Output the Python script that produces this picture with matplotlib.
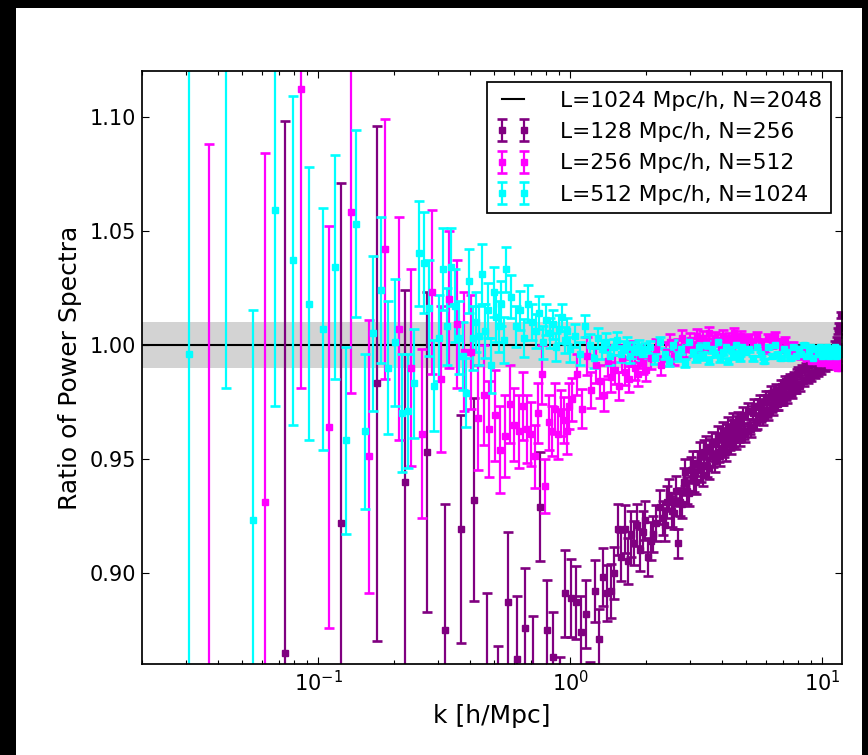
import matplotlib
matplotlib.use("Agg")
import matplotlib.pyplot as plt
from matplotlib.patches import Rectangle
from matplotlib.ticker import FormatStrFormatter

# Reference run (L=1024 Mpc/h, N=2048) and the +/-1% band around it
REF_RATIO = 1.0
BAND_HALF_WIDTH = 0.01
REF_LABEL = "L=1024 Mpc/h, N=2048"

# L=128 Mpc/h, N=256
K_L128 = [
    0.0736, 0.1227, 0.1718, 0.2209, 0.2700, 0.3191, 0.3682, 0.4172, 0.4663, 0.5154,
    0.5645, 0.6136, 0.6627, 0.7118, 0.7609, 0.8099, 0.8590, 0.9081, 0.9572, 1.0063,
    1.0554, 1.1045, 1.1536, 1.2026, 1.2517, 1.3008, 1.3499, 1.3990, 1.4481, 1.4972,
    1.5463, 1.5953, 1.6444, 1.6935, 1.7426, 1.7917, 1.8408, 1.8899, 1.9390, 1.9880,
    2.0371, 2.0862, 2.1353, 2.1844,
    2.282, 2.380, 2.479, 2.577, 2.675, 2.773, 2.871, 2.970, 3.068, 3.166,
    3.264, 3.362, 3.461, 3.559, 3.657, 3.755, 3.853, 3.952, 4.050, 4.148,
    4.246, 4.344, 4.443, 4.541, 4.639, 4.737, 4.835, 4.934,
    5.081, 5.228, 5.376, 5.523, 5.670, 5.817, 5.965, 6.112, 6.259, 6.406,
    6.554, 6.701, 6.848, 6.995, 7.143, 7.290, 7.437, 7.584, 7.732, 7.879,
    8.026, 8.173, 8.321, 8.468, 8.615, 8.762, 8.910, 9.057, 9.204, 9.351,
    9.499, 9.646, 9.793, 9.940, 10.088, 10.235, 10.382, 10.529, 10.677, 10.824,
    10.971, 11.118, 11.266, 11.413, 11.560, 11.707, 11.855,
    # intermediate bins
    2.331, 2.429, 2.528, 2.626, 2.724, 2.822, 2.920, 3.019, 3.117, 3.215,
    3.313, 3.411, 3.510, 3.608, 3.706, 3.804, 3.902, 4.001, 4.099, 4.197,
    4.295, 4.394, 4.492, 4.590, 4.688, 4.786, 4.884,
    5.155, 5.302, 5.450, 5.597, 5.744, 5.891, 6.039, 6.186, 6.333, 6.480,
    6.628, 6.775, 6.922, 7.069, 7.217, 7.364, 7.511, 7.658, 7.806, 7.953,
]
RATIO_L128 = [
    0.865, 0.922, 0.983, 0.940, 0.953, 0.875, 0.919, 0.932, 0.853, 0.835,
    0.887, 0.862, 0.876, 0.857, 0.929, 0.875, 0.863, 0.844, 0.891, 0.889,
    0.887, 0.874, 0.882, 0.846, 0.892, 0.871, 0.898, 0.891, 0.892, 0.900,
    0.919, 0.907, 0.919, 0.905, 0.917, 0.913, 0.921, 0.910, 0.918, 0.923,
    0.907, 0.914, 0.917, 0.922,
    0.929, 0.921, 0.934, 0.926, 0.913, 0.930, 0.944, 0.935, 0.948, 0.940,
    0.952, 0.943, 0.955, 0.946, 0.957, 0.949, 0.960, 0.951, 0.962, 0.953,
    0.964, 0.956, 0.966, 0.958, 0.967, 0.959, 0.969, 0.961,
    0.971, 0.963, 0.973, 0.966, 0.975, 0.968, 0.977, 0.970, 0.979, 0.972,
    0.980, 0.974, 0.982, 0.976, 0.984, 0.977, 0.985, 0.979, 0.986, 0.981,
    0.988, 0.982, 0.989, 0.984, 0.990, 0.985, 0.991, 0.986, 0.992, 0.987,
    0.993, 0.988, 0.993, 0.989, 0.994, 0.990, 0.995, 0.991, 0.996, 0.993,
    0.997, 0.996, 1.000, 1.002, 1.006, 1.008, 1.013,
    0.924, 0.931, 0.927, 0.936, 0.931, 0.940, 0.936, 0.945, 0.941, 0.948,
    0.945, 0.953, 0.947, 0.954, 0.951, 0.957, 0.953, 0.959, 0.955, 0.961,
    0.958, 0.963, 0.959, 0.965, 0.961, 0.966, 0.962,
    0.964, 0.970, 0.966, 0.973, 0.969, 0.975, 0.971, 0.977, 0.973, 0.978,
    0.974, 0.980, 0.976, 0.982, 0.978, 0.984, 0.980, 0.985, 0.981, 0.987,
]
ERR_L128 = [
    0.233, 0.149, 0.113, 0.084, 0.070, 0.055, 0.050, 0.0445, 0.038, 0.033,
    0.031, 0.028, 0.026, 0.024, 0.024, 0.022, 0.020, 0.019, 0.019, 0.017,
    0.016, 0.0156, 0.015, 0.015, 0.0137, 0.0132, 0.0127, 0.0123, 0.0119, 0.0115,
    0.0111, 0.0108, 0.0105, 0.0101, 0.0099, 0.0096, 0.0093, 0.0091, 0.0089, 0.0086,
    0.0084, 0.0082, 0.0080, 0.0079,
    0.0075, 0.0072, 0.0069, 0.0067, 0.0064, 0.0062, 0.0060, 0.0058, 0.0056, 0.0054,
    0.0053, 0.0051, 0.0050, 0.0048, 0.0047, 0.0046, 0.0045, 0.0044, 0.0042, 0.0041,
    0.0041, 0.0040, 0.0039, 0.0038, 0.0037, 0.0036, 0.0036, 0.0035,
    0.0034, 0.0033, 0.0032, 0.0031, 0.0030, 0.0030, 0.0029, 0.0028, 0.0027, 0.0027,
    0.0026, 0.0026, 0.0025, 0.0025, 0.0024, 0.0024, 0.0023, 0.0023, 0.0022, 0.0022,
    0.0021, 0.0021, 0.0021, 0.0020, 0.0020, 0.0020, 0.0019, 0.0019, 0.0019, 0.0018,
    0.0018, 0.0018, 0.0018, 0.0017, 0.0017, 0.0017, 0.0017, 0.0016, 0.0016, 0.0016,
    0.0016, 0.0015, 0.0015, 0.0015, 0.0015, 0.0015, 0.0015,
    0.0074, 0.0071, 0.0068, 0.0066, 0.0063, 0.0061, 0.0059, 0.0057, 0.0055, 0.0054,
    0.0052, 0.0050, 0.0049, 0.0048, 0.0046, 0.0045, 0.0044, 0.0043, 0.0042, 0.0041,
    0.0040, 0.0039, 0.0038, 0.0037, 0.0037, 0.0036, 0.0035,
    0.0033, 0.0032, 0.0032, 0.0031, 0.0030, 0.0029, 0.0028, 0.0028, 0.0027, 0.0027,
    0.0026, 0.0025, 0.0025, 0.0024, 0.0024, 0.0023, 0.0023, 0.0022, 0.0022, 0.0022,
]

# L=256 Mpc/h, N=512
K_L256 = [
    0.0368, 0.0614, 0.0859, 0.1104, 0.1350, 0.1595, 0.1841, 0.2086, 0.2332, 0.2577,
    0.2823, 0.3068, 0.3313, 0.3559, 0.3804, 0.4050, 0.4295, 0.4541, 0.4786, 0.5032,
    0.5277, 0.5522, 0.5768, 0.6013, 0.6259, 0.6504, 0.6750, 0.6995, 0.7240, 0.7486,
    0.7731, 0.7977, 0.8222, 0.8468, 0.8713, 0.8959, 0.9204, 0.9450, 0.9695, 0.9940,
    1.019, 1.068, 1.117, 1.166, 1.215, 1.264, 1.313, 1.362, 1.411, 1.460,
    1.509, 1.558, 1.607, 1.657, 1.706, 1.755, 1.804, 1.853, 1.902, 1.951, 2.000,
    2.098, 2.196, 2.294, 2.393, 2.491, 2.589, 2.687, 2.785, 2.884, 2.982,
    3.080, 3.178, 3.276, 3.375, 3.473, 3.571, 3.669, 3.767, 3.866, 3.964,
    4.062, 4.160, 4.258, 4.357, 4.455, 4.553, 4.651, 4.749, 4.848, 4.946,
    5.142, 5.339, 5.535, 5.731, 5.928, 6.124, 6.320, 6.517, 6.713, 6.909,
    7.106, 7.302, 7.498, 7.695, 7.891, 8.087, 8.284, 8.480, 8.676, 8.873,
    9.069, 9.265, 9.462, 9.658, 9.854, 10.051, 10.247, 10.443, 10.640, 10.836,
    11.032, 11.229, 11.425, 11.621, 11.818,
]
RATIO_L256 = [
    0.855, 0.931, 1.112, 0.964, 1.058, 0.951, 1.042, 1.007, 0.990, 0.961,
    1.023, 0.985, 1.020, 1.009, 0.997, 0.997, 0.968, 0.978, 0.963, 0.969,
    0.954, 0.960, 0.974, 0.965, 0.962, 0.973, 0.963, 0.961, 0.951, 0.970,
    0.987, 0.938, 0.966, 0.962, 0.972, 0.961, 0.970, 0.967, 0.962, 0.973,
    0.976, 0.987, 0.972, 0.995, 0.980, 0.991, 0.984, 0.978, 0.993, 0.986,
    0.989, 0.982, 0.994, 0.988, 0.985, 0.996, 0.990, 0.987, 0.995, 0.992, 0.989,
    0.994, 0.998, 0.991, 0.997, 1.001, 0.995, 0.999, 1.003, 0.998, 1.002,
    1.000, 1.004, 0.999, 1.003, 1.001, 1.005, 1.000, 1.003, 1.002, 0.999,
    1.004, 1.001, 1.003, 1.000, 1.005, 1.002, 1.001, 1.004, 1.002, 1.000,
    1.003, 1.000, 1.004, 1.001, 0.998, 1.003, 1.000, 1.004, 1.001, 0.998,
    1.002, 0.999, 0.997, 1.000, 0.996, 0.998, 0.995, 0.997, 0.994, 0.996,
    0.993, 0.995, 0.993, 0.995, 0.992, 0.994, 0.992, 0.994, 0.991, 0.993,
    0.991, 0.993, 0.990, 0.992, 0.990,
]
ERR_L256 = [
    0.233, 0.153, 0.131, 0.088, 0.079, 0.060, 0.057, 0.049, 0.043, 0.037,
    0.036, 0.032, 0.030, 0.028, 0.026, 0.025, 0.023, 0.022, 0.021, 0.020,
    0.019, 0.018, 0.017, 0.016, 0.016, 0.015, 0.015, 0.014, 0.014, 0.013,
    0.013, 0.012, 0.012, 0.011, 0.011, 0.011, 0.010, 0.010, 0.010, 0.010,
    0.0094, 0.0090, 0.0086, 0.0082, 0.0079, 0.0076, 0.0073, 0.0070, 0.0068, 0.0066,
    0.0063, 0.0061, 0.0060, 0.0058, 0.0056, 0.0055, 0.0053, 0.0052, 0.0050, 0.0049, 0.0048,
    0.0046, 0.0044, 0.0042, 0.0040, 0.0038, 0.0037, 0.0036, 0.0034, 0.0033, 0.0032,
    0.0031, 0.0030, 0.0029, 0.0028, 0.0028, 0.0027, 0.0026, 0.0025, 0.0025, 0.0024,
    0.0024, 0.0023, 0.0022, 0.0022, 0.0021, 0.0021, 0.0021, 0.0020, 0.0020, 0.0019,
    0.0019, 0.0018, 0.0017, 0.0017, 0.0016, 0.0016, 0.0015, 0.0015, 0.0014, 0.0014,
    0.0013, 0.0013, 0.0013, 0.0012, 0.0012, 0.0012, 0.0012, 0.0011, 0.0011, 0.0011,
    0.0011, 0.0010, 0.0010, 0.0010, 0.0010, 0.0010, 0.0009, 0.0009, 0.0009, 0.0009,
    0.0009, 0.0009, 0.0008, 0.0008, 0.0008,
]

# L=512 Mpc/h, N=1024
K_L512 = [
    0.0307, 0.0430, 0.0552, 0.0675, 0.0798, 0.0920, 0.1043, 0.1166, 0.1289, 0.1411,
    0.1534, 0.1657, 0.1779, 0.1902, 0.2025, 0.2148, 0.2270, 0.2393, 0.2516, 0.2638,
    0.2761, 0.2884, 0.3007, 0.3129, 0.3252, 0.3375, 0.3497, 0.3620, 0.3743, 0.3865,
    0.3988, 0.4111, 0.4234, 0.4356, 0.4479, 0.4602, 0.4725, 0.4847, 0.4970, 0.5093,
    0.5215, 0.5338, 0.5461, 0.5584,
    0.583, 0.608, 0.632, 0.657, 0.681, 0.706, 0.730, 0.755, 0.780, 0.804,
    0.829, 0.853, 0.878, 0.902, 0.927, 0.951, 0.976, 1.000,
    1.049, 1.098, 1.148, 1.197, 1.246, 1.295, 1.344, 1.393, 1.442, 1.491,
    1.540, 1.589, 1.638, 1.687, 1.736, 1.786, 1.835, 1.884, 1.933, 1.982,
    2.080, 2.179, 2.277, 2.375, 2.473, 2.571, 2.670, 2.768, 2.866, 2.964,
    3.062, 3.160, 3.259, 3.357, 3.455, 3.553, 3.651, 3.750, 3.848, 3.946,
    4.044, 4.142, 4.240, 4.339, 4.437, 4.535, 4.633, 4.731, 4.830, 4.928,
    5.124, 5.321, 5.517, 5.713, 5.910, 6.106, 6.302, 6.499, 6.695, 6.891,
    7.088, 7.284, 7.480, 7.677, 7.873, 8.069, 8.266, 8.462, 8.658, 8.855,
    9.051, 9.248, 9.444, 9.640, 9.837, 10.033, 10.229, 10.426, 10.622, 10.818,
    11.015, 11.211, 11.407, 11.604, 11.800, 11.996,
]
RATIO_L512 = [
    0.996, 1.125, 0.923, 1.059, 1.037, 1.018, 1.007, 1.034, 0.958, 1.053,
    0.962, 1.005, 1.024, 0.990, 1.001, 0.970, 0.971, 0.983, 1.040, 1.036,
    1.016, 0.982, 1.003, 1.033, 1.008, 1.034, 1.017, 1.003, 0.995, 0.979,
    1.028, 1.003, 1.010, 1.004, 1.031, 1.006, 1.015, 0.991, 1.023, 1.012,
    1.008, 1.018, 1.002, 1.033,
    1.021, 1.008, 1.015, 1.003, 1.018, 1.010, 1.006, 1.014, 1.001, 1.011,
    1.005, 1.009, 0.999, 1.007, 1.012, 1.002, 1.006, 0.998,
    1.004, 0.996, 1.008, 1.000, 0.994, 1.003, 0.998, 1.001, 0.995, 0.999,
    1.002, 0.996, 0.998, 1.000, 0.995, 0.998, 0.997, 0.999, 0.996, 0.998,
    0.999, 0.994, 1.001, 0.996, 0.993, 1.000, 0.995, 0.998, 0.992, 1.001,
    0.997, 0.994, 0.999, 0.995, 1.000, 0.993, 0.998, 0.996, 1.001, 0.994,
    0.997, 0.999, 0.993, 0.998, 0.995, 1.000, 0.996, 0.994, 0.999, 0.997,
    0.998, 0.994, 0.999, 0.996, 0.993, 0.999, 0.995, 1.000, 0.996, 0.994,
    0.998, 0.997, 0.994, 0.999, 0.995, 0.998, 0.996, 1.000, 0.995, 0.997,
    0.999, 0.994, 0.998, 0.996, 0.999, 0.995, 0.997, 0.999, 0.995, 0.998,
    0.996, 0.999, 0.995, 0.997, 0.998, 0.996,
]
ERR_L512 = [
    0.150, 0.144, 0.092, 0.086, 0.072, 0.060, 0.053, 0.049, 0.041, 0.041,
    0.034, 0.034, 0.032, 0.029, 0.028, 0.026, 0.025, 0.024, 0.023, 0.022,
    0.021, 0.020, 0.019, 0.018, 0.017, 0.017, 0.016, 0.016, 0.015, 0.015,
    0.014, 0.014, 0.013, 0.013, 0.013, 0.012, 0.012, 0.012, 0.011, 0.011,
    0.011, 0.010, 0.010, 0.010,
    0.0094, 0.0090, 0.0087, 0.0084, 0.0081, 0.0078, 0.0075, 0.0073, 0.0071, 0.0068,
    0.0066, 0.0064, 0.0063, 0.0061, 0.0059, 0.0058, 0.0056, 0.0055,
    0.0052, 0.0050, 0.0048, 0.0046, 0.0044, 0.0042, 0.0041, 0.0040, 0.0038, 0.0037,
    0.0036, 0.0035, 0.0034, 0.0033, 0.0032, 0.0031, 0.0030, 0.0029, 0.0028, 0.0028,
    0.0026, 0.0025, 0.0024, 0.0023, 0.0022, 0.0021, 0.0021, 0.0020, 0.0019, 0.0019,
    0.0018, 0.0017, 0.0017, 0.0016, 0.0016, 0.0015, 0.0015, 0.0015, 0.0014, 0.0014,
    0.0014, 0.0013, 0.0013, 0.0013, 0.0012, 0.0012, 0.0012, 0.0012, 0.0011, 0.0011,
    0.0011, 0.0010, 0.0010, 0.0010, 0.0009, 0.0009, 0.0009, 0.0008, 0.0008, 0.0008,
    0.0008, 0.0008, 0.0007, 0.0007, 0.0007, 0.0007, 0.0007, 0.0007, 0.0006, 0.0006,
    0.0006, 0.0006, 0.0006, 0.0006, 0.0006, 0.0005, 0.0005, 0.0005, 0.0005, 0.0005,
    0.0005, 0.0005, 0.0005, 0.0005, 0.0005, 0.0005,
]

RUNS = [
    (K_L128, RATIO_L128, ERR_L128, "purple", "L=128 Mpc/h, N=256"),
    (K_L256, RATIO_L256, ERR_L256, "magenta", "L=256 Mpc/h, N=512"),
    (K_L512, RATIO_L512, ERR_L512, "cyan", "L=512 Mpc/h, N=1024"),
]

W, H = 868, 755
fig = plt.figure(figsize=(W / 100, H / 100), dpi=100, facecolor="black")
fig.add_artist(Rectangle((16 / W, 0), 846 / W, 747.5 / H, transform=fig.transFigure,
                         facecolor="white", edgecolor="none", zorder=-10))
ax = fig.add_axes([142 / W, 91 / H, 700 / W, 593 / H])

ax.axhspan(REF_RATIO - BAND_HALF_WIDTH, REF_RATIO + BAND_HALF_WIDTH,
           color="lightgray", lw=0, zorder=0)
ax.axhline(REF_RATIO, color="black", lw=1.5, label=REF_LABEL)

for k, ratio, err, color, label in RUNS:
    ax.errorbar(k, ratio, yerr=err, fmt="s", color=color, mec=color, ms=3.8,
                elinewidth=1.6, capsize=3.8, capthick=1.9, label=label)

ax.set_xscale("log")
ax.set_xlim(0.02, 12)
ax.set_ylim(0.86, 1.12)
ax.set_yticks([0.90, 0.95, 1.00, 1.05, 1.10])
ax.yaxis.set_major_formatter(FormatStrFormatter("%.2f"))
ax.tick_params(which="both", direction="in", top=True, right=True,
               labelsize=15, width=0.8)
ax.tick_params(which="major", length=5, pad=4)
ax.tick_params(which="minor", length=2.8)
for spine in ax.spines.values():
    spine.set_linewidth(1.25)

ax.set_xlabel("k [h/Mpc]", fontsize=18, labelpad=7)
ax.set_ylabel("Ratio of Power Spectra", fontsize=18, labelpad=6)

leg = ax.legend(loc="upper right", numpoints=2, fontsize=15.7, fancybox=False,
                framealpha=1, edgecolor="black", borderpad=0.4, labelspacing=0.52,
                handlelength=1.6, handletextpad=1.35, borderaxespad=0.5)
leg.get_frame().set_linewidth(1.25)

fig.savefig("out.png", dpi=100, facecolor=fig.get_facecolor())
